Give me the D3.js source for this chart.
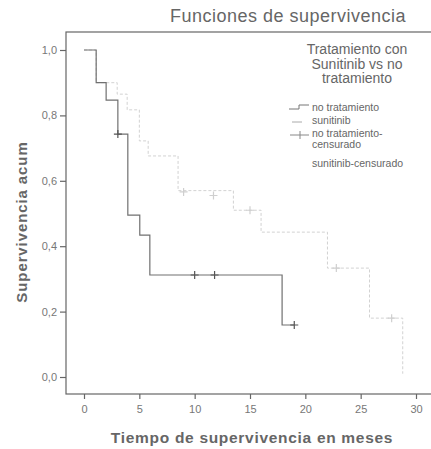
<!DOCTYPE html>
<meta charset="utf-8">
<style>
body { margin: 0; background: #fff; font-family: "Liberation Sans", Arial, sans-serif; }
.tick text { font-size: 11px; fill: #777; }
.frame { fill: none; stroke: #666; stroke-width: 1.2px; }
.axis path { display: none; }
.axis line { stroke: #666; stroke-width: 1.2px; }
</style>
<body>
<script src="https://cdn.jsdelivr.net/npm/d3@7"></script>
<script>

    // Kaplan-Meier steps
    var noTratTimes = [0, 1.1, 2.0, 3.06, 3.96, 5.04, 5.95, 17.9, 19.0];
    var noTratSurv = [1.0, 0.90, 0.847, 0.743, 0.495, 0.434, 0.312, 0.159, 0.159];
    var noTratCensTimes = [3.06, 10, 11.8, 19.0];
    var noTratCensSurv = [0.743, 0.312, 0.312, 0.159];

    var sunTimes = [0, 1.1, 3.0, 3.9, 5.0, 5.8, 8.5, 13.5, 16.0, 22.0, 25.8, 28.8];
    var sunSurv = [1.0, 0.90, 0.865, 0.817, 0.722, 0.676, 0.57, 0.51, 0.443, 0.333, 0.18, 0.01];
    var sunCensTimes = [9.0, 11.7, 15.0, 22.8, 27.8];
    var sunCensSurv = [0.566, 0.555, 0.51, 0.333, 0.18];

    var xTicks = [0, 5, 10, 15, 20, 25, 30];
    var yTicks = [0, 0.2, 0.4, 0.6, 0.8, 1.0];
    var legendLabels = [["no tratamiento"], ["sunitinib"], ["no tratamiento-", "censurado"], ["sunitinib-censurado"]];

    var width = 431, height = 449;
    var frame = {left: 66, top: 32, right: 440, bottom: 394};

    var svg = d3.select("body").append("svg")
        .attr("width", width)
        .attr("height", height);

    var x = d3.scaleLinear().domain([0, 30]).range([84, 416]);
    var y = d3.scaleLinear().domain([0, 1]).range([377, 50]);

    // box round the plot
    svg.append("rect")
        .attr("class", "frame")
        .attr("x", frame.left)
        .attr("y", frame.top)
        .attr("width", frame.right - frame.left)
        .attr("height", frame.bottom - frame.top);

    var comma = function (d) { return d3.format(".1f")(d).replace(".", ","); };

    svg.append("g")
        .attr("class", "axis")
        .attr("transform", "translate(0," + frame.bottom + ")")
        .call(d3.axisBottom(x).tickValues(xTicks).tickSize(5).tickPadding(6));

    svg.append("g")
        .attr("class", "axis")
        .attr("transform", "translate(" + frame.left + ",0)")
        .call(d3.axisLeft(y).tickValues(yTicks).tickSize(6).tickPadding(3).tickFormat(comma));

    var step = d3.line()
        .x(function (d) { return x(d[0]); })
        .y(function (d) { return y(d[1]); })
        .curve(d3.curveStepAfter);

    // sunitinib curve (faint)
    svg.append("path")
        .datum(d3.zip(sunTimes, sunSurv))
        .attr("fill", "none")
        .attr("stroke", "#d2d2d2")
        .attr("stroke-width", 1)
        .attr("stroke-dasharray", "3,2")
        .attr("d", step);

    // no tratamiento curve
    svg.append("path")
        .datum(d3.zip(noTratTimes, noTratSurv))
        .attr("fill", "none")
        .attr("stroke", "#707070")
        .attr("stroke-width", 1.2)
        .attr("d", step);

    function plus(sel, color) {
        sel.append("path")
            .attr("fill", "none")
            .attr("stroke", color)
            .attr("stroke-width", 1.2)
            .attr("d", function (d) {
                var px = x(d[0]), py = y(d[1]);
                return "M" + (px - 4) + "," + py + "H" + (px + 4)
                    + "M" + px + "," + (py - 4) + "V" + (py + 4);
            });
    }

    svg.append("g").selectAll("g")
        .data(d3.zip(sunCensTimes, sunCensSurv))
        .enter().append("g")
        .call(plus, "#cfcfcf");

    svg.append("g").selectAll("g")
        .data(d3.zip(noTratCensTimes, noTratCensSurv))
        .enter().append("g")
        .call(plus, "#555");

    // titles
    svg.append("text")
        .attr("x", 288)
        .attr("y", 22)
        .attr("text-anchor", "middle")
        .style("font-size", "18px")
        .style("fill", "#666")
        .style("letter-spacing", "0.5px")
        .text("Funciones de supervivencia");

    svg.append("text")
        .attr("x", 252)
        .attr("y", 443)
        .attr("text-anchor", "middle")
        .style("font-size", "15.5px")
        .style("font-weight", "bold")
        .style("fill", "#666")
        .style("letter-spacing", "0.7px")
        .text("Tiempo de supervivencia en meses");

    svg.append("text")
        .attr("transform", "translate(27,222) rotate(-90)")
        .attr("text-anchor", "middle")
        .style("font-size", "15px")
        .style("font-weight", "bold")
        .style("fill", "#666")
        .style("letter-spacing", "0.9px")
        .text("Supervivencia acum");

    // legend
    var legTitle = ["Tratamiento con", "Sunitinib vs no", "tratamiento"];
    svg.append("g").selectAll("text")
        .data(legTitle)
        .enter().append("text")
        .attr("x", 357)
        .attr("y", function (d, i) { return 54 + i * 14.5; })
        .attr("text-anchor", "middle")
        .style("font-size", "14px")
        .style("fill", "#666")
        .text(function (d) { return d; });

    var legY = [108, 121, 134, 164];
    var leg = svg.append("g").selectAll("g")
        .data(legendLabels)
        .enter().append("g")
        .attr("transform", function (d, i) { return "translate(0," + legY[i] + ")"; });

    leg.append("text")
        .attr("x", 312)
        .style("font-size", "10.5px")
        .style("fill", "#666")
        .selectAll("tspan")
        .data(function (d) { return d; })
        .enter().append("tspan")
        .attr("x", 312)
        .attr("dy", function (d, i) { return i === 0 ? 3 : 11; })
        .text(function (d) { return d; });

    // legend symbols
    svg.append("path")
        .attr("fill", "none")
        .attr("stroke", "#777")
        .attr("d", "M289," + (legY[0] + 1) + "H299V" + (legY[0] - 3) + "H309");
    svg.append("path")
        .attr("fill", "none")
        .attr("stroke", "#aaa")
        .attr("d", "M292," + (legY[1] + 1) + "H302");
    svg.append("path")
        .attr("fill", "none")
        .attr("stroke", "#888")
        .attr("d", "M290," + (legY[2] + 1) + "H309M300," + (legY[2] - 3) + "V" + (legY[2] + 5));

</script>
</body>
